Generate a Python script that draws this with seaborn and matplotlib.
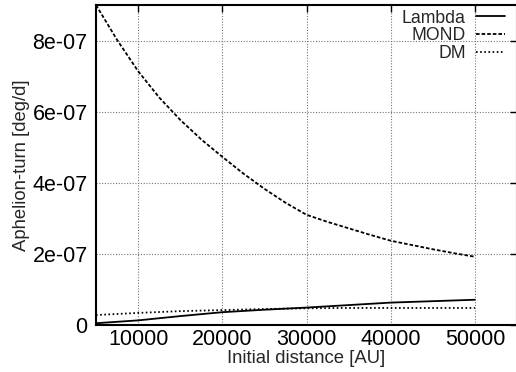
import numpy as np
import pandas as pd
import matplotlib
matplotlib.use("Agg")
import matplotlib.pyplot as plt
import seaborn as sns

# Initial distance of the orbit [AU]
distance = [5000, 10000, 15000, 20000, 25000, 30000, 35000, 40000, 45000, 50000]
# MOND was sampled on a finer grid
distance_mond = [5000, 7500, 10000, 12500, 15000, 17500, 20000, 22500, 25000, 27500,
                 30000, 32500, 35000, 37500, 40000, 42500, 45000, 47500, 50000]
# Aphelion turn rate [deg/d] for each model
lambda_turn = [0.5e-8, 1.3e-8, 2.5e-8, 3.6e-8, 4.3e-8, 4.9e-8, 5.6e-8, 6.3e-8, 6.7e-8, 7.1e-8]
mond_turn = [9.00e-7, 8.02e-7, 7.14e-7, 6.40e-7, 5.77e-7, 5.22e-7, 4.73e-7, 4.26e-7, 3.83e-7, 3.44e-7,
             3.10e-7, 2.90e-7, 2.72e-7, 2.54e-7, 2.37e-7, 2.25e-7, 2.13e-7, 2.02e-7, 1.92e-7]
dm_turn = [2.8e-8, 3.4e-8, 3.9e-8, 4.2e-8, 4.5e-8, 4.7e-8, 4.8e-8, 4.8e-8, 4.8e-8, 4.8e-8]

x_ticks = [10000, 20000, 30000, 40000, 50000]
y_ticks = [0, 2e-7, 4e-7, 6e-7, 8e-7]
y_tick_labels = ["0", "2e-07", "4e-07", "6e-07", "8e-07"]

sns.set_style("white")
plt.rcParams["font.family"] = ["Liberation Sans", "DejaVu Sans"]

df = pd.DataFrame({
    "distance": distance + distance_mond + distance,
    "turn": lambda_turn + mond_turn + dm_turn,
    "model": ["Lambda"] * len(distance) + ["MOND"] * len(distance_mond) + ["DM"] * len(distance),
})

fig = plt.figure(figsize=(5.16, 3.72), dpi=100)
ax = fig.add_axes([96 / 516, 47 / 372, 421 / 516, 320 / 372])

styles = {"Lambda": "-", "MOND": (0, (2.0, 1.1)), "DM": (0, (0.9, 1.4))}
for name in ["Lambda", "MOND", "DM"]:
    sub = df[df["model"] == name]
    sns.lineplot(data=sub, x="distance", y="turn", ax=ax, color="black",
                 linewidth=1.3, linestyle=styles[name], label=name, legend=False)

ax.set_xlim(5000, 55000)
ax.set_ylim(0, 9e-7)
ax.set_xticks(x_ticks)
ax.set_xticklabels([str(t) for t in x_ticks])
ax.set_yticks(y_ticks)
ax.set_yticklabels(y_tick_labels)

ax.grid(True, color="#777777", linestyle=(0, (1, 1.5)), linewidth=0.8)
ax.set_axisbelow(True)

for side in ["left", "bottom", "top", "right"]:
    ax.spines[side].set_color("black")
    ax.spines[side].set_linewidth(1.5)

ax.tick_params(axis="both", direction="in", length=5, width=1, labelsize=15.5,
               top=True, right=True, colors="black")
ax.tick_params(axis="x", pad=3)
ax.tick_params(axis="y", pad=6)

ax.set_xlabel("Initial distance [AU]", fontsize=13.3, labelpad=0)
ax.set_ylabel("Aphelion-turn [deg/d]", fontsize=13.3, labelpad=2)

handles, labels = ax.get_legend_handles_labels()
ax.legend(handles, labels, loc="upper right", bbox_to_anchor=(0.985, 1.005),
          frameon=False, markerfirst=False, fontsize=12.7, handlelength=1.6,
          handletextpad=0.6, labelspacing=0.05, borderpad=0.15, borderaxespad=0.2)

fig.savefig("out.png", dpi=100)
